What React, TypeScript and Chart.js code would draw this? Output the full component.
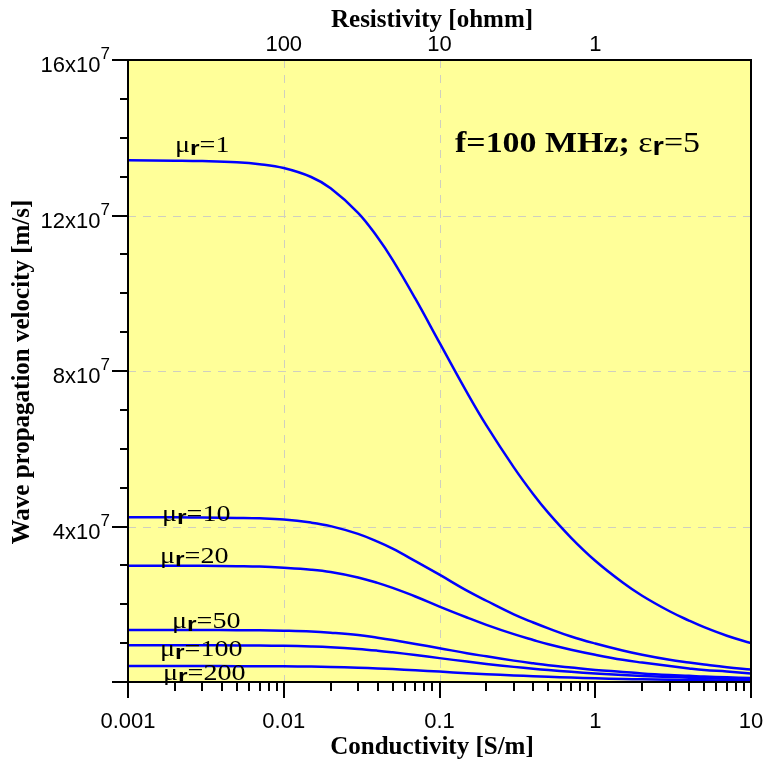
import { useEffect, useRef } from 'react';
import { Chart, registerables } from 'chart.js';

Chart.register(...registerables);

// Conductivity sample points [S/m]
const conductivity = [0.001, 0.002, 0.003, 0.005, 0.007, 0.01, 0.015, 0.02, 0.03, 0.04, 0.05, 0.07, 0.1, 0.15, 0.2, 0.3, 0.4, 0.5, 0.7, 1, 1.5, 2, 3, 4, 5, 7, 10];

// Wave propagation velocity, in units of 10^7 m/s
const velMu1 = [13.42, 13.41, 13.40, 13.37, 13.32, 13.22, 12.99, 12.70, 12.07, 11.44, 10.86, 9.86, 8.73, 7.45, 6.60, 5.52, 4.83, 4.35, 3.71, 3.12, 2.56, 2.22, 1.82, 1.58, 1.41, 1.19, 1.0];
const velMu10 = [4.24, 4.24, 4.23, 4.22, 4.21, 4.18, 4.10, 4.01, 3.81, 3.61, 3.43, 3.11, 2.76, 2.35, 2.09, 1.74, 1.53, 1.38, 1.17, 0.99, 0.81, 0.70, 0.57, 0.50, 0.45, 0.38, 0.32];
const velMu20 = [2.99, 2.99, 2.99, 2.98, 2.97, 2.94, 2.89, 2.83, 2.69, 2.55, 2.42, 2.20, 1.94, 1.66, 1.47, 1.23, 1.08, 0.97, 0.83, 0.70, 0.57, 0.50, 0.41, 0.35, 0.31, 0.27, 0.22];
const velMu50 = [1.34, 1.34, 1.34, 1.33, 1.33, 1.32, 1.30, 1.27, 1.21, 1.14, 1.08, 0.98, 0.87, 0.74, 0.66, 0.55, 0.48, 0.43, 0.37, 0.31, 0.26, 0.22, 0.18, 0.16, 0.14, 0.12, 0.10];
const velMu100 = [0.945, 0.944, 0.944, 0.941, 0.938, 0.93, 0.914, 0.895, 0.85, 0.806, 0.764, 0.694, 0.614, 0.525, 0.465, 0.389, 0.34, 0.307, 0.261, 0.22, 0.18, 0.156, 0.128, 0.111, 0.099, 0.084, 0.07];
const velMu200 = [0.41, 0.41, 0.41, 0.408, 0.407, 0.404, 0.397, 0.388, 0.369, 0.35, 0.332, 0.301, 0.267, 0.228, 0.202, 0.169, 0.148, 0.133, 0.113, 0.095, 0.078, 0.068, 0.056, 0.048, 0.043, 0.036, 0.03];

const seriesValues = [velMu1, velMu10, velMu20, velMu50, velMu100, velMu200];
const muValues = ['1', '10', '20', '50', '100', '200'];

// Tick labels
const xTickValues = [0.001, 0.01, 0.1, 1, 10];
const xTickLabels = ['0.001', '0.01', '0.1', '1', '10'];
const topTickValues = [0.01, 0.1, 1];
const topTickLabels = ['100', '10', '1'];
const yTickValues = [4, 8, 12, 16];
const yTickLabels = ['4x10', '8x10', '12x10', '16x10'];
const yTickExponent = '7';
const xGridValues = [0.01, 0.1];

const xTitle = 'Conductivity [S/m]';
const topTitle = 'Resistivity [ohmm]';
const yTitle = 'Wave propagation velocity [m/s]';

const SERIF = '"Liberation Serif", "Times New Roman", serif';
const SANS = '"Liberation Sans", Arial, sans-serif';

// label anchor positions (left x, baseline y) in pixels relative to canvas
const muLabelPos: [number, number][] = [
  [175, 152],
  [162, 521],
  [160, 563],
  [172, 628],
  [160, 656],
  [163, 680],
];

type Run = [string, string, number];
function drawRuns(ctx: CanvasRenderingContext2D, x: number, y: number, runs: Run[], sx = 1) {
  ctx.save();
  ctx.translate(x, y);
  ctx.scale(sx, 1);
  ctx.textAlign = 'left';
  ctx.textBaseline = 'alphabetic';
  let cx = 0;
  for (const [t, f, dy] of runs) {
    ctx.font = f;
    ctx.fillText(t, cx, dy);
    cx += ctx.measureText(t).width;
  }
  ctx.restore();
}

const decoPlugin = {
  id: 'deco',
  beforeDraw(chart: any) {
    const { ctx, chartArea: a } = chart;
    ctx.save();
    ctx.fillStyle = '#ffffff';
    ctx.fillRect(0, 0, chart.width, chart.height);
    ctx.fillStyle = '#ffff99';
    ctx.fillRect(a.left, a.top, a.right - a.left, a.bottom - a.top);
    ctx.restore();
  },
  beforeDatasetsDraw(chart: any) {
    const { ctx, chartArea: a, scales } = chart;
    const xs = scales.x, ys = scales.y;
    ctx.save();
    ctx.strokeStyle = '#cfcfbf';
    ctx.lineWidth = 1;
    ctx.setLineDash([8, 7]);
    for (const v of yTickValues) {
      if (v >= 16) continue;
      const py = Math.round(ys.getPixelForValue(v)) + 0.5;
      ctx.beginPath();
      ctx.moveTo(a.left, py);
      ctx.lineTo(a.right, py);
      ctx.stroke();
    }
    for (const v of xGridValues) {
      const px = Math.round(xs.getPixelForValue(v)) + 0.5;
      ctx.beginPath();
      ctx.moveTo(px, a.top);
      ctx.lineTo(px, a.bottom);
      ctx.stroke();
    }
    ctx.restore();
  },
  afterDatasetsDraw(chart: any) {
    const { ctx, chartArea: a, scales } = chart;
    const xs = scales.x, ys = scales.y;
    ctx.save();
    // frame
    ctx.strokeStyle = '#000';
    ctx.lineWidth = 2;
    ctx.setLineDash([]);
    ctx.strokeRect(a.left, a.top, a.right - a.left, a.bottom - a.top);

    // y ticks (major every 4, minor every 1)
    ctx.lineWidth = 2;
    for (let v = 0; v <= 16; v += 1) {
      const py = Math.round(ys.getPixelForValue(v));
      const len = v % 4 === 0 ? 16 : 8;
      ctx.beginPath();
      ctx.moveTo(a.left, py);
      ctx.lineTo(a.left - len, py);
      ctx.stroke();
    }
    // x ticks (log: majors at decades, minors at 2..9)
    for (let e = -3; e <= 1; e++) {
      for (let m = 1; m <= 9; m++) {
        const v = m * Math.pow(10, e);
        if (v > 10.0001) break;
        const px = Math.round(xs.getPixelForValue(v));
        const len = m === 1 ? 16 : 9;
        ctx.beginPath();
        ctx.moveTo(px, a.bottom);
        ctx.lineTo(px, a.bottom + len);
        ctx.stroke();
      }
    }

    ctx.fillStyle = '#000';
    // bottom tick labels
    ctx.font = `22px ${SANS}`;
    ctx.textAlign = 'center';
    ctx.textBaseline = 'middle';
    xTickValues.forEach((v, i) => {
      ctx.fillText(xTickLabels[i], xs.getPixelForValue(v), a.bottom + 40);
    });
    // top tick labels
    topTickValues.forEach((v, i) => {
      ctx.fillText(topTickLabels[i], xs.getPixelForValue(v), a.top - 15);
    });
    // y tick labels with superscript
    yTickValues.forEach((v, i) => {
      const py = ys.getPixelForValue(v);
      ctx.font = `17px ${SANS}`;
      ctx.textAlign = 'right';
      ctx.textBaseline = 'alphabetic';
      const supW = ctx.measureText(yTickExponent).width;
      const right = 110;
      ctx.fillText(yTickExponent, right, py - 1);
      ctx.font = `22px ${SANS}`;
      ctx.fillText(yTickLabels[i], right - supW, py + 12);
    });

    // axis titles
    ctx.font = `bold 25px ${SERIF}`;
    ctx.textAlign = 'center';
    ctx.textBaseline = 'middle';
    ctx.fillText(xTitle, 432, 748);
    ctx.fillText(topTitle, 432, 21);
    ctx.save();
    ctx.translate(23, 372);
    ctx.rotate(-Math.PI / 2);
    ctx.fillText(yTitle, 0, 0);
    ctx.restore();

    // curve labels
    muValues.forEach((mu, i) => {
      const [lx, ly] = muLabelPos[i];
      drawRuns(ctx, lx, ly, [
        ['μ', `24px ${SERIF}`, 0],
        ['r', `bold 21px ${SANS}`, 3],
        ['=' + mu, `24px ${SERIF}`, 0],
      ], 1.17);
    });

    // annotation
    drawRuns(ctx, 455, 152, [
      ['f=100 MHz; ', `bold 29px ${SERIF}`, 0],
      ['ε', `29px ${SERIF}`, 0],
      ['r', `bold 25px ${SANS}`, 3],
      ['=5', `29px ${SERIF}`, 0],
    ], 1.17);
    ctx.restore();
  },
};

export default function App() {
  const ref = useRef<HTMLCanvasElement | null>(null);
  useEffect(() => {
    if (!ref.current) return;
    const chart = new Chart(ref.current, {
      type: 'line',
      data: {
        datasets: seriesValues.map((vals, i) => ({
          label: 'μr=' + muValues[i],
          data: conductivity.map((c, j) => ({ x: c, y: vals[j] })),
          borderColor: '#0000ff',
          borderWidth: 2.5,
          pointRadius: 0,
          fill: false,
          tension: 0.4,
        })),
      },
      options: {
        animation: false,
        responsive: false,
        maintainAspectRatio: false,
        layout: { padding: { left: 128, top: 60, right: 13, bottom: 82 } },
        plugins: { legend: { display: false }, tooltip: { enabled: false } },
        scales: {
          x: { type: 'logarithmic', min: 0.001, max: 10, display: false },
          y: { type: 'linear', min: 0, max: 16, display: false },
        },
      },
      plugins: [decoPlugin],
    });
    return () => chart.destroy();
  }, []);
  return (
    <canvas
      ref={ref}
      width={764}
      height={764}
      style={{ position: 'fixed', left: 0, top: 0, width: 764, height: 764 }}
    />
  );
}
